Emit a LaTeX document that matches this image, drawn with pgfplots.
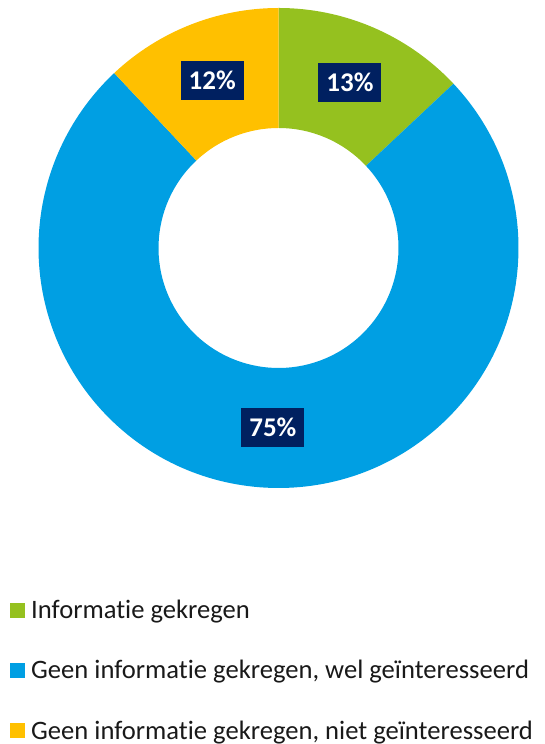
\documentclass[border=0pt]{standalone}
\usepackage{pgfplots}
\pgfplotsset{compat=1.18}
\usepackage{pgfplotstable}
\usepackage{fontspec}
\setmainfont{Carlito}[Ligatures=NoCommon]
\definecolor{cgreen}{HTML}{95C11F}
\definecolor{cblue}{HTML}{009FE3}
\definecolor{cyellow}{HTML}{FFC000}
\definecolor{cnavy}{HTML}{002060}
\pgfplotstableread{
value
13
75
12
}\datatable
\tikzset{lbl/.style={fill=cnavy, text=white, font=\fontsize{27}{30}\selectfont\bfseries, minimum width=63pt, text height=17pt, text depth=0pt, inner ysep=11pt, inner xsep=0pt},
lg/.style={anchor=base west, inner sep=0pt, font=\fontsize{26.6}{30}\selectfont, text=black!90}}
\begin{document}
\begin{tikzpicture}
\pgfplotstablegetelem{0}{value}\of\datatable\let\va\pgfplotsretval
\pgfplotstablegetelem{1}{value}\of\datatable\let\vb\pgfplotsretval
\pgfplotstablegetelem{2}{value}\of\datatable\let\vc\pgfplotsretval
\pgfmathsetmacro\aA{90}
\pgfmathsetmacro\aB{\aA-3.6*\va}
\pgfmathsetmacro\aC{\aB-3.6*\vb}
\pgfmathsetmacro\aD{\aC-3.6*\vc}
\pgfmathsetmacro\mA{(\aA+\aB)/2}
\pgfmathsetmacro\mB{(\aB+\aC)/2}
\pgfmathsetmacro\mC{(\aC+\aD)/2}
\def\Ro{240pt}
\def\Ri{120pt}
\begin{axis}[hide axis, x=1pt, y=1pt, xmin=0, xmax=538, ymin=0, ymax=744, clip=false,
  scale only axis]
\path (axis cs:0,0) rectangle (axis cs:538,744);
\begin{scope}[shift={(axis cs:278.5,496)}]
\fill[cgreen] (\aA:\Ro) arc[start angle=\aA, end angle=\aB, radius=\Ro] -- (\aB:\Ri) arc[start angle=\aB, end angle=\aA, radius=\Ri] -- cycle;
\fill[cblue] (\aB:\Ro) arc[start angle=\aB, end angle=\aC, radius=\Ro] -- (\aC:\Ri) arc[start angle=\aC, end angle=\aB, radius=\Ri] -- cycle;
\fill[cyellow] (\aC:\Ro) arc[start angle=\aC, end angle=\aD, radius=\Ro] -- (\aD:\Ri) arc[start angle=\aD, end angle=\aC, radius=\Ri] -- cycle;
\node[lbl] at (\mA:180pt) {\va\%};
\node[lbl] at (\mB:180pt) {\vb\%};
\node[lbl] at (\mC:180pt) {\vc\%};
\end{scope}
\fill[cgreen] (axis cs:10,126.3) rectangle (axis cs:25,141.3);
\node[lg] at (axis cs:31,125) {Informatie gekregen};
\fill[cblue] (axis cs:10,66.3) rectangle (axis cs:25,81.3);
\node[lg] at (axis cs:31,65) {Geen informatie gekregen, wel geïnteresseerd};
\fill[cyellow] (axis cs:10,6.3) rectangle (axis cs:25,21.3);
\node[lg] at (axis cs:31,5) {Geen informatie gekregen, niet geïnteresseerd};
\end{axis}
\end{tikzpicture}
\end{document}
